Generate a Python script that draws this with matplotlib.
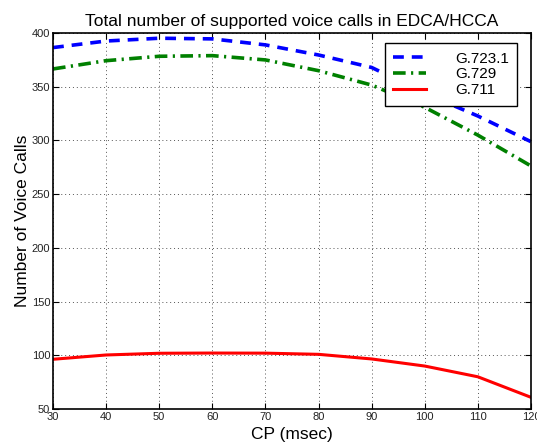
import matplotlib
matplotlib.use("Agg")
import matplotlib.pyplot as plt

cp = [30, 40, 50, 60, 70, 80, 90, 100, 110, 120]
g7231 = [386.5, 392.6, 395.2, 394.6, 389.0, 379.6, 368.0, 344.0, 322.8, 298.9]
g729 = [366.6, 374.3, 378.4, 379.0, 375.0, 365.0, 351.6, 330.9, 305.0, 276.3]
g711 = [96.3, 100.3, 101.9, 102.1, 102.0, 100.9, 96.6, 90.0, 80.0, 60.9]
xticks = [30, 40, 50, 60, 70, 80, 90, 100, 110, 120]
yticks = [50, 100, 150, 200, 250, 300, 350, 400]

plt.rcParams['font.family'] = ['Liberation Sans', 'DejaVu Sans']
fig = plt.figure(figsize=(5.37, 4.47), dpi=100)
ax = fig.add_axes([0.0987, 0.085, 0.890, 0.841])

ax.plot(cp, g7231, color='#0000ff', ls=(0, (3, 2.2)), lw=2.6, label='G.723.1')
ax.plot(cp, g729, color='#008000', ls=(0, (3.5, 1.5, 0.6, 1.5)), lw=2.6, label='G.729')
ax.plot(cp, g711, color='#ff0000', ls='-', lw=2.2, label='G.711')

ax.set_xlim(30, 120)
ax.set_ylim(50, 400)
ax.set_xticks(xticks)
ax.set_yticks(yticks)
ax.tick_params(direction='in', top=True, right=True, labelsize=8, length=4, pad=2,
               labelcolor='#222222')
ax.grid(True, color='#555555', ls=(0, (1, 3)), lw=0.7)
for s in ax.spines.values():
    s.set_linewidth(1.2)

ax.set_title('Total number of supported voice calls in EDCA/HCCA', fontsize=12.5, pad=5)
ax.set_xlabel('CP (msec)', fontsize=12.5, labelpad=4)
ax.set_ylabel('Number of Voice Calls', fontsize=12.5, labelpad=1)

leg = ax.legend(loc='upper right', bbox_to_anchor=(0.971, 0.973), borderaxespad=0,
                fontsize=11, fancybox=False, edgecolor='black', framealpha=1,
                handlelength=2.15, handletextpad=1.9, borderpad=0.55, labelspacing=0.12)
leg.get_frame().set_linewidth(1.0)

fig.savefig('out.png', dpi=100)
